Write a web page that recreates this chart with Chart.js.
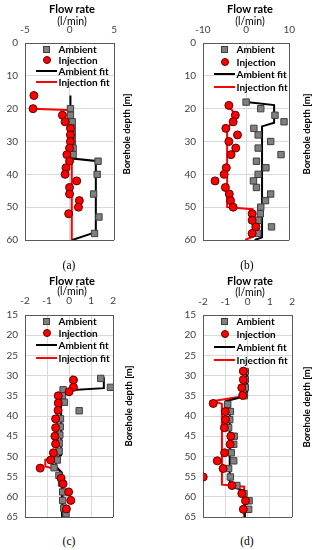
<!DOCTYPE html>
<html>
<head>
<meta charset="utf-8">
<script src="https://cdn.jsdelivr.net/npm/chart.js@4.4.1/dist/chart.umd.min.js"></script>
<style>
  body { margin: 0; background: #fff; font-family: Lato, sans-serif; }
  #wrap { position: relative; width: 315px; height: 550px; overflow: hidden; background: #fff; }
  canvas { position: absolute; }
  .t { position: absolute; transform: translate(-50%, -50%); white-space: nowrap; color: #000; }
  .ttl { font-weight: bold; font-size: 11px; }
  .unit { font-size: 10.5px; }
  .ylab { font-weight: bold; font-size: 9.5px; transform: translate(-50%, -50%) rotate(-90deg); }
  .cap { font-family: "Liberation Serif", serif; font-size: 11.5px; }
  .li { position: absolute; font-weight: bold; font-size: 10px; white-space: nowrap; transform: translateY(-50%); line-height: 12px; }
  .mk { position: absolute; box-sizing: border-box; }
</style>
</head>
<body>
<div id="wrap">
  <canvas id="ca" width="124" height="253" style="left:0;top:0"></canvas>
  <canvas id="cb" width="124" height="253" style="left:178px;top:0"></canvas>
  <canvas id="cc" width="124" height="258" style="left:0;top:272px"></canvas>
  <canvas id="cd" width="124" height="258" style="left:178px;top:272px"></canvas>

  <div class="t ttl" style="left:72px;top:8px">Flow rate</div>
  <div class="t unit" style="left:72px;top:21px">(l/min)</div>
  <div class="t ttl" style="left:250px;top:8px">Flow rate</div>
  <div class="t unit" style="left:250px;top:21px">(l/min)</div>
  <div class="t ttl" style="left:72px;top:280px">Flow rate</div>
  <div class="t unit" style="left:72px;top:291px">(l/min)</div>
  <div class="t ttl" style="left:250px;top:280px">Flow rate</div>
  <div class="t unit" style="left:250px;top:292px">(l/min)</div>

  <div class="t ylab" style="left:126px;top:134px">Borehole depth [m]</div>
  <div class="t ylab" style="left:306px;top:134px">Borehole depth [m]</div>
  <div class="t ylab" style="left:128px;top:406px">Borehole depth [m]</div>
  <div class="t ylab" style="left:306px;top:407px">Borehole depth [m]</div>

  <div class="t cap" style="left:69px;top:265px">(a)</div>
  <div class="t cap" style="left:247px;top:265px">(b)</div>
  <div class="t cap" style="left:69px;top:541px">(c)</div>
  <div class="t cap" style="left:247px;top:541px">(d)</div>
</div>
<script>
// panel (a)
const aAmbDepth = [20, 22, 24, 26, 28, 30, 32, 34, 36, 40, 46, 53, 58];
const aAmbFlow = [0.1, 0.1, 0.3, 0.3, 0.3, 0.3, 0.4, 0.4, 3.2, 3.1, 2.7, 3.3, 2.8];
const aInjDepth = [16, 20, 22, 24, 26, 28, 30, 32, 34, 36, 38, 40, 42, 44, 46, 48, 50, 52];
const aInjFlow = [-4.0, -4.1, -0.8, -0.5, 0.1, 0.1, 0.1, 0.0, -0.3, 0.0, -0.4, -0.5, 0.8, 0.0, 0.0, 1.1, 1.0, -0.1];
const aAmbFitDepth = [16, 21, 23, 35.2, 36, 37, 57.6, 60];
const aAmbFitFlow = [0.1, 0.1, 0.3, 0.3, 3.2, 2.95, 2.95, 0.3];
const aInjFitDepth = [20, 20.5, 60];
const aInjFitFlow = [-4.1, 0.25, 0.25];

// panel (b)
const bAmbDepth = [18, 20, 22, 24, 26, 28, 30, 32, 34, 36, 38, 40, 42, 44, 46, 48, 50, 52, 54, 56, 58];
const bAmbFlow = [0, 3.4, 6.7, 8.8, 1.8, 2.8, 5.7, 2.8, 8.1, 2.4, 4.6, 2.8, 1.7, 2.4, 5.7, 4.5, 3.4, 3.3, 2.8, 5.9, 2.7];
const bInjDepth = [19, 22, 24, 26, 28, 30, 32, 34, 38, 40, 42, 44, 46, 48, 50, 52, 54, 56, 58];
const bInjFlow = [-4.0, -2.5, -3.0, -4.7, -2.0, -4.0, -2.4, -3.5, -4.6, -5.1, -7.2, -4.8, -3.9, -3.6, -3.0, 1.4, 1.4, 2.3, 1.4];
const bAmbFitDepth = [18, 18.9, 24.3, 25.4, 59.2, 60];
const bAmbFitFlow = [0, 6.5, 6.5, 3.7, 3.7, 2.0];
const bInjFitDepth = [19, 22, 24, 26, 50, 50.6, 59, 60];
const bInjFitFlow = [-4.0, -2.5, -3.0, -4.4, -4.4, 1.5, 1.5, -0.2];

// panel (c)
const cAmbDepth = [30.7, 32.9, 33.5, 35, 36.6, 38.7, 40.7, 42.7, 44.7, 46.7, 48.7, 50.9, 52.8, 54.7, 56.6, 58.8, 60.9, 62.8, 64.2];
const cAmbFlow = [1.44, 1.88, -0.27, -0.3, -0.21, 0.46, -0.39, -0.4, -0.42, -0.45, -0.45, -0.53, -0.68, -0.46, -0.34, -0.29, -0.29, -0.24, -0.14];
const cInjDepth = [31.1, 32.9, 34.0, 35.0, 36.8, 38.6, 40.7, 42.9, 45.0, 46.9, 49.1, 50.9, 52.9, 55.4, 56.8, 58.8, 60.9, 63.0];
const cInjFlow = [0.2, 0.2, 0.0, -0.49, -0.49, -0.5, -0.61, -0.61, -0.64, -0.61, -0.71, -0.83, -1.31, -0.36, -0.27, -0.02, 0.08, -0.12];
const cAmbFitDepth = [30.4, 33.1, 33.7, 35, 49.7, 50.5, 52.5, 54, 65];
const cAmbFitFlow = [1.58, 1.58, -0.2, -0.36, -0.36, -0.6, -0.6, -0.32, -0.32];
const cInjFitDepth = [30, 33.5, 35, 49.7, 50.9, 52.5, 53.3, 55, 65];
const cInjFitFlow = [0.15, 0.15, -0.54, -0.54, -1.08, -1.08, -0.46, -0.3, -0.27];

// panel (d)
const dAmbDepth = [29, 31, 33, 35, 37.1, 38.9, 40.9, 42.9, 45, 47, 49.1, 51.1, 53, 55.1, 57.2, 59.2, 61, 63.1];
const dAmbFlow = [-0.1, -0.1, -0.1, -0.15, -0.89, -0.77, -0.8, -0.85, -0.6, -0.62, -0.73, -0.62, -0.85, -0.77, -0.48, -0.16, 0.07, 0.05];
const dInjDepth = [28.9, 31, 33, 34.9, 36.9, 38.9, 40.9, 42.9, 45, 47, 49.1, 51.1, 53, 55.1, 57.2, 59.2, 61, 63.1];
const dInjFlow = [-0.19, -0.19, -0.26, -0.22, -1.54, -1.0, -0.99, -1.04, -0.75, -0.78, -1.03, -1.36, -1.1, -1.99, -0.7, -0.26, -0.09, -0.19];
const dAmbFitDepth = [28.7, 35, 36.3, 37.2, 57.3, 58.5, 65];
const dAmbFitFlow = [-0.02, -0.02, -0.95, -0.8, -0.8, -0.15, -0.12];
const dInjFitDepth = [29, 35, 36.3, 37, 57, 57.5, 65];
const dInjFitFlow = [-0.05, -0.05, -1.55, -1.15, -1.15, -0.15, -0.15];

const legendLabels = ['Ambient', 'Injection', 'Ambient fit', 'Injection fit'];

const pts = (xs, ys) => xs.map((x, i) => ({ x, y: ys[i] }));
const tickFont = { family: 'Lato', size: 10 };

function makePanel(id, p) {
  const gridColor = max => c => (c.tick && c.tick.value === max ? '#595959' : '#d9d9d9');
  return new Chart(document.getElementById(id), {
    type: 'scatter',
    data: {
      datasets: [
        { label: legendLabels[0], data: pts(p.amb[1], p.amb[0]), pointStyle: 'rect', pointRadius: 4.5,
          backgroundColor: '#808080', borderColor: '#3f3f3f', borderWidth: 1, order: 1 },
        { label: legendLabels[1], data: pts(p.inj[1], p.inj[0]), pointStyle: 'circle', pointRadius: 4,
          backgroundColor: '#ff0000', borderColor: '#5a0000', borderWidth: 1, order: 0 },
        { label: legendLabels[2], data: pts(p.ambFit[1], p.ambFit[0]), showLine: true, pointRadius: 0,
          borderColor: '#000000', borderWidth: 2, order: 2 },
        { label: legendLabels[3], data: pts(p.injFit[1], p.injFit[0]), showLine: true, pointRadius: 0,
          borderColor: '#ff0000', borderWidth: 2, order: 3 }
      ]
    },
    options: {
      responsive: false,
      animation: false,
      devicePixelRatio: 1,
      layout: { padding: { left: 0, top: 0, right: 8, bottom: 8 } },
      plugins: { legend: { display: false }, tooltip: { enabled: false } },
      scales: {
        x: {
          type: 'linear', position: 'top', min: p.xMin, max: p.xMax,
          ticks: { stepSize: p.xStep, padding: p.xPad, color: '#404040', font: tickFont },
          grid: { color: gridColor(p.xMax), drawTicks: false },
          border: { color: '#595959' },
          afterFit: s => { s.height = 43; }
        },
        y: {
          type: 'linear', reverse: true, min: p.yMin, max: p.yMax,
          ticks: { stepSize: p.yStep, padding: 7, color: '#404040', font: tickFont },
          grid: { color: gridColor(p.yMax), drawTicks: false },
          border: { color: '#595959' },
          afterFit: s => { s.width = 25; }
        }
      }
    }
  });
}

const panels = [
  { id: 'ca', amb: [aAmbDepth, aAmbFlow], inj: [aInjDepth, aInjFlow], ambFit: [aAmbFitDepth, aAmbFitFlow], injFit: [aInjFitDepth, aInjFitFlow],
    xMin: -5, xMax: 5, xStep: 5, yMin: 0, yMax: 60, yStep: 10, xPad: 7, legGap: 11 },
  { id: 'cb', amb: [bAmbDepth, bAmbFlow], inj: [bInjDepth, bInjFlow], ambFit: [bAmbFitDepth, bAmbFitFlow], injFit: [bInjFitDepth, bInjFitFlow],
    xMin: -10, xMax: 10, xStep: 10, yMin: 0, yMax: 60, yStep: 10, xPad: 7, legGap: 12.5 },
  { id: 'cc', amb: [cAmbDepth, cAmbFlow], inj: [cInjDepth, cInjFlow], ambFit: [cAmbFitDepth, cAmbFitFlow], injFit: [cInjFitDepth, cInjFitFlow],
    xMin: -2, xMax: 2, xStep: 1, yMin: 15, yMax: 65, yStep: 5, xPad: 8, legGap: 12.2 },
  { id: 'cd', amb: [dAmbDepth, dAmbFlow], inj: [dInjDepth, dInjFlow], ambFit: [dAmbFitDepth, dAmbFitFlow], injFit: [dInjFitDepth, dInjFitFlow],
    xMin: -2, xMax: 2, xStep: 1, yMin: 15, yMax: 65, yStep: 5, xPad: 7, legGap: 13 }
];

const wrap = document.getElementById('wrap');

function addLegend(chart, gap) {
  const cv = chart.canvas;
  const ox = cv.offsetLeft, oy = cv.offsetTop;
  const a = chart.chartArea;
  const mx = ox + a.left + 21.5;
  chart.data.datasets.forEach((ds, i) => {
    const y = oy + a.top + 6 + i * gap;
    const mk = document.createElement('div');
    mk.className = 'mk';
    if (i === 0) {
      Object.assign(mk.style, { left: (mx - 3.5) + 'px', top: (y - 3.5) + 'px', width: '7px', height: '7px',
        background: ds.backgroundColor, border: '1px solid ' + ds.borderColor });
    } else if (i === 1) {
      Object.assign(mk.style, { left: (mx - 4) + 'px', top: (y - 4) + 'px', width: '8px', height: '8px', borderRadius: '50%',
        background: ds.backgroundColor, border: '1px solid ' + ds.borderColor });
    } else {
      Object.assign(mk.style, { left: (mx - 10.5) + 'px', top: (y - 1) + 'px', width: '21px', height: '2px',
        background: ds.borderColor });
    }
    wrap.appendChild(mk);
    const tx = document.createElement('div');
    tx.className = 'li';
    tx.textContent = ds.label;
    tx.style.left = (ox + a.left + 33.5) + 'px';
    tx.style.top = y + 'px';
    wrap.appendChild(tx);
  });
}

panels.forEach(p => {
  const chart = makePanel(p.id, p);
  addLegend(chart, p.legGap);
});
</script>
</body>
</html>
